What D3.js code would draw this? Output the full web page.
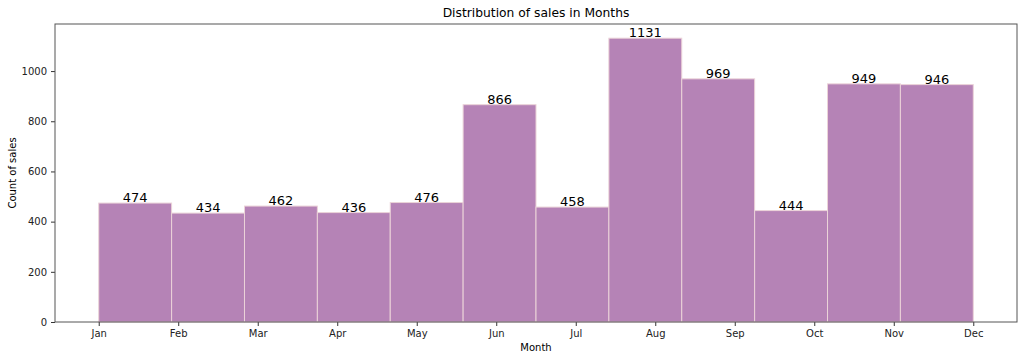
<!DOCTYPE html>
<html>
<head>
<meta charset="utf-8">
<script src="https://cdn.jsdelivr.net/npm/d3@7"></script>
<style>
  body { margin: 0; background: #fff; }
  svg { font-family: "DejaVu Sans", sans-serif; }
</style>
</head>
<body>
<div class="graph"></div>
<script>
const months = ["Jan","Feb","Mar","Apr","May","Jun","Jul","Aug","Sep","Oct","Nov","Dec"];
const counts = [474, 434, 462, 436, 476, 866, 458, 1131, 969, 444, 949, 946];
const yTicks = [0, 200, 400, 600, 800, 1000];

let width = 1024;
let height = 361;
let margin = {top: 24, right: 7, bottom: 39, left: 55};

let svg = d3.select(".graph")
  .append("svg")
  .attr("width", width)
  .attr("height", height);

// histogram of month numbers 1..12 in 12 bins, like matplotlib
let binW = 11 / 12;
let bins = counts.map((c, i) => ({x0: 1 + i * binW, x1: 1 + (i + 1) * binW, count: c}));

let x = d3.scaleLinear()
  .domain([1 - 0.55, 12 + 0.55])
  .range([margin.left, width - margin.right]);

let y = d3.scaleLinear()
  .domain([0, d3.max(counts) * 1.05])
  .range([height - margin.bottom, margin.top]);

svg.selectAll(".bar")
  .data(bins)
  .enter().append("rect")
  .attr("class", "bar")
  .attr("x", d => x(d.x0))
  .attr("width", d => x(d.x1) - x(d.x0))
  .attr("y", d => y(d.count))
  .attr("height", d => y(0) - y(d.count))
  .attr("fill", "#b583b6")
  .attr("stroke", "#ebd3d8")
  .attr("stroke-width", 1);

svg.selectAll(".val")
  .data(bins)
  .enter().append("text")
  .attr("x", d => x((d.x0 + d.x1) / 2))
  .attr("y", d => y(d.count) - 1)
  .attr("text-anchor", "middle")
  .attr("font-size", 13)
  .attr("fill", "#000")
  .text(d => d.count);

// axes
let xAxis = svg.append("g")
  .attr("transform", `translate(0,${height - margin.bottom})`)
  .call(d3.axisBottom(x).tickValues(d3.range(1, 13)).tickFormat(d => months[d - 1]).tickSize(4).tickPadding(4));

let yAxis = svg.append("g")
  .attr("transform", `translate(${margin.left},0)`)
  .call(d3.axisLeft(y).tickValues(yTicks).tickFormat(d3.format("d")).tickSize(4).tickPadding(4));

[xAxis, yAxis].forEach(g => {
  g.select(".domain").remove();
  g.selectAll("text").attr("font-size", 10).attr("fill", "#222").attr("font-family", "DejaVu Sans, sans-serif");
  g.selectAll("line").attr("stroke", "#333");
});

// frame
svg.append("rect")
  .attr("x", margin.left)
  .attr("y", margin.top)
  .attr("width", width - margin.left - margin.right)
  .attr("height", height - margin.top - margin.bottom)
  .attr("fill", "none")
  .attr("stroke", "#555")
  .attr("stroke-width", 1);

svg.append("text")
  .attr("x", (margin.left + width - margin.right) / 2)
  .attr("y", 17)
  .attr("text-anchor", "middle")
  .attr("font-size", 12.3)
  .text("Distribution of sales in Months");

svg.append("text")
  .attr("x", (margin.left + width - margin.right) / 2)
  .attr("y", 351)
  .attr("text-anchor", "middle")
  .attr("font-size", 10)
  .text("Month");

svg.append("text")
  .attr("transform", `translate(16,${(margin.top + height - margin.bottom) / 2}) rotate(-90)`)
  .attr("text-anchor", "middle")
  .attr("font-size", 10)
  .text("Count of sales");
</script>
</body>
</html>
